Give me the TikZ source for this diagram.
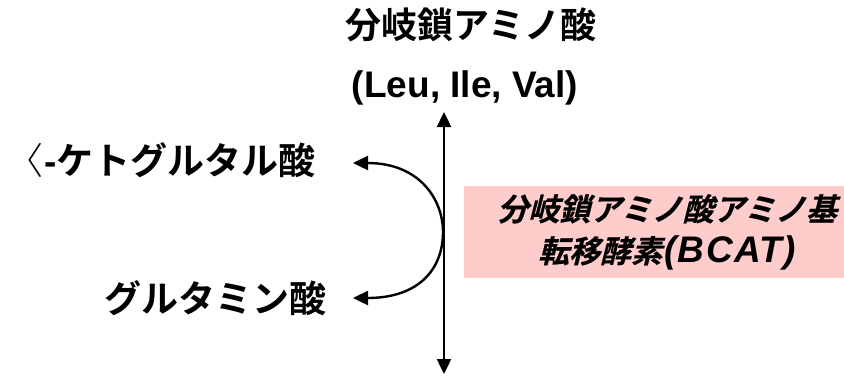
\documentclass[tikz,border=0pt]{standalone}
\usepackage{fontspec}
\usetikzlibrary{arrows.meta}
\newfontfamily\jpb{Noto Sans CJK JP Bold}
\newfontfamily\jpthin{Noto Sans CJK JP Light}
\newfontfamily\latb{Liberation Sans Bold}
\newfontfamily\jpit[FakeSlant=0.25,FakeBold=0.5]{Noto Sans CJK JP Bold}
\newfontfamily\latit[LetterSpace=4]{Liberation Sans Bold Italic}
\definecolor{boxpink}{RGB}{255,204,204}
\begin{document}
\begin{tikzpicture}[x=1pt,y=-1pt,
  txt/.style={inner sep=0pt, outer sep=0pt},
  conn2/.style={line width=2.4pt, {Triangle[length=15pt,width=14pt]}-{Triangle[length=15pt,width=14pt]}}]
\useasboundingbox (0,0) rectangle (844,376);
% texts
\node[txt, font=\fontsize{36}{36}\selectfont\jpb] (title) at (471,25) {分岐鎖アミノ酸};
\node[txt, anchor=base, font=\fontsize{37}{37}\selectfont\latb] (aa) at (465,97) {(Leu, Ile, Val)};
\node[txt, anchor=east, font=\fontsize{37}{37}\selectfont] (akg) at (316,160) {{\jpthin 〈}\hspace{1pt}{\latb -}{\jpb ケトグルタル酸}};
\node[txt, anchor=east, font=\fontsize{37}{37}\selectfont\jpb] (glu) at (326,298) {グルタミン酸};
% enzyme box
\node[fill=boxpink, minimum width=406pt, minimum height=92pt, anchor=north west, inner sep=0pt, align=center,
  font=\fontsize{31}{42}\selectfont] (bcat) at (464,186)
  {{\jpit 分岐鎖アミノ酸アミノ基}\\{\jpit 転移酵素}\hspace{2pt}{\fontsize{37}{42}\selectfont\latit (BCAT)}};
% main arrow
\coordinate (vtop) at (444,112);
\coordinate (vbot) at (444,374);
\draw[conn2] (vbot) -- (vtop);
% side curve
\coordinate (ctop) at (353,163);
\coordinate (cmid) at (443,232);
\coordinate (cbot) at (353,298);
\draw[conn2] (ctop) .. controls (420,163) and (443,200) .. (cmid) .. controls (443,268) and (420,298) .. (cbot);
\end{tikzpicture}
\end{document}
